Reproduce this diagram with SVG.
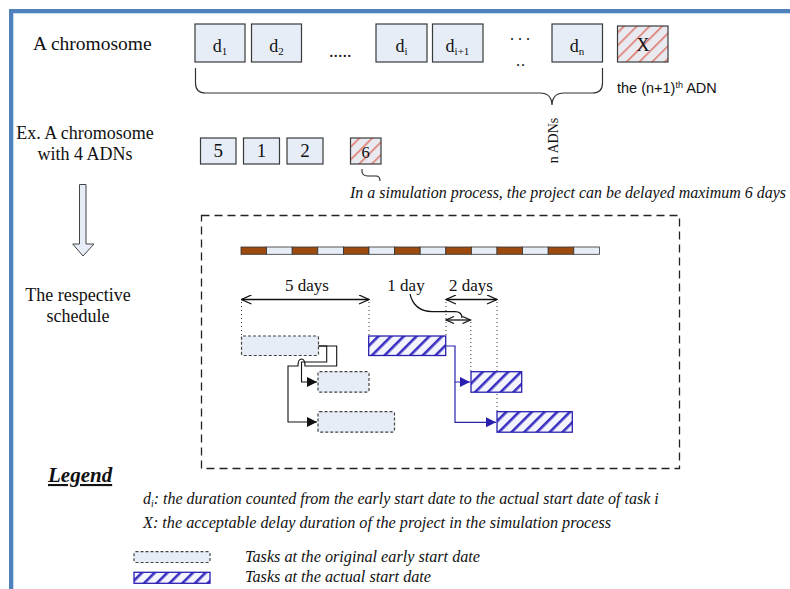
<svg xmlns="http://www.w3.org/2000/svg" width="790" height="589" viewBox="0 0 790 589">
<defs>
<style>
.t{font-family:"Liberation Serif","Times New Roman",serif;fill:#111}
.it{font-family:"Liberation Serif","Times New Roman",serif;font-style:italic;fill:#111}
.sans{font-family:"Liberation Sans",Arial,sans-serif;fill:#111}
.box{fill:#E6EDF7;stroke:#3a3a3a;stroke-width:1.2}
.xbox{fill:url(#redHatch);stroke:#3a3a3a;stroke-width:1.2}
.early{fill:#E6EDF7;stroke:#444;stroke-width:1.2;stroke-dasharray:3 2}
.actual{fill:url(#blueHatch);stroke:#2A20B0;stroke-width:1.3}
.dot{stroke:#333;stroke-width:1;stroke-dasharray:1 3;fill:none}
.dim{stroke:#111;stroke-width:1.3;fill:none}
.blk{stroke:#111;stroke-width:1.1;fill:none}
.blu{stroke:#2A20B0;stroke-width:1.2;fill:none}
.brn{fill:#9C4A0E;stroke:#333;stroke-width:0.8}
.lbl{fill:#E6EDF7;stroke:#333;stroke-width:0.8}
</style>
<pattern id="redHatch" width="9" height="9" patternUnits="userSpaceOnUse" patternTransform="rotate(45)">
<rect width="9" height="9" fill="#E8EAF0"/>
<rect x="0" y="0" width="1.6" height="9" fill="#E07A70"/>
</pattern>
<pattern id="blueHatch" width="9" height="9" patternUnits="userSpaceOnUse" patternTransform="rotate(45)">
<rect width="9" height="9" fill="#F4F4FF"/>
<rect x="0" y="0" width="2.6" height="9" fill="#3A30C0"/>
</pattern>
<marker id="openA" viewBox="0 0 12 10" refX="11" refY="5" markerWidth="12" markerHeight="10" markerUnits="userSpaceOnUse" orient="auto-start-reverse">
<path d="M1,0.5 L11,5 L1,9.5" fill="none" stroke="#111" stroke-width="1.3"/>
</marker>
<marker id="openS" viewBox="0 0 10 8" refX="9" refY="4" markerWidth="10" markerHeight="8" markerUnits="userSpaceOnUse" orient="auto-start-reverse">
<path d="M1,0.5 L9,4 L1,7.5" fill="none" stroke="#111" stroke-width="1.2"/>
</marker>
<marker id="triK" viewBox="0 0 10 10" refX="10" refY="5" markerWidth="11" markerHeight="10" markerUnits="userSpaceOnUse" orient="auto">
<path d="M0,0 L10,5 L0,10 Z" fill="#111"/>
</marker>
<marker id="triB" viewBox="0 0 10 10" refX="10" refY="5" markerWidth="11" markerHeight="10" markerUnits="userSpaceOnUse" orient="auto">
<path d="M0,0 L10,5 L0,10 Z" fill="#2A20B0"/>
</marker>
</defs>
<rect width="790" height="589" fill="#fff"/>
<g id="frame">
<rect x="9" y="9" width="781" height="4.3" fill="#4F81BD"/>
<rect x="9" y="9" width="4.3" height="580" fill="#4F81BD"/>
</g>

<g id="row-chromosome">
<text class="t" x="33" y="50" font-size="19.5">A chromosome</text>
<g id="d1"><rect class="box" x="195" y="24" width="50" height="38"/><text class="t" x="220" y="52" font-size="18" text-anchor="middle">d<tspan font-size="11" dy="3">1</tspan></text></g>
<g id="d2"><rect class="box" x="251.5" y="24" width="50" height="38"/><text class="t" x="276.5" y="52" font-size="18" text-anchor="middle">d<tspan font-size="11" dy="3">2</tspan></text></g>
<text class="t" x="329" y="57" font-size="18">.....</text>
<g id="di"><rect class="box" x="376" y="24" width="51" height="38"/><text class="t" x="401.5" y="52" font-size="18" text-anchor="middle">d<tspan font-size="11" dy="3">i</tspan></text></g>
<g id="di1"><rect class="box" x="432.5" y="24" width="50.5" height="38"/><text class="t" x="457.5" y="52" font-size="18" text-anchor="middle">d<tspan font-size="11" dy="3">i+1</tspan></text></g>
<text class="t" x="510" y="40" font-size="16" letter-spacing="4">...</text>
<text class="t" x="516" y="66" font-size="16" letter-spacing="1">..</text>
<g id="dn"><rect class="box" x="552" y="24" width="50.5" height="38"/><text class="t" x="577" y="52" font-size="18" text-anchor="middle">d<tspan font-size="11" dy="3">n</tspan></text></g>
<g id="X"><rect class="xbox" x="617.5" y="26" width="50.5" height="36"/><text class="t" x="643" y="51" font-size="18" text-anchor="middle">X</text></g>
<text class="sans" x="617" y="93" font-size="14.5">the (n+1)<tspan font-size="9" dy="-5">th</tspan><tspan dy="5"> ADN</tspan></text>
<path d="M195.5,68 V83 Q195.5,93 205.5,93 H540 Q551.5,93 552,105 Q552.5,93 564,93 H592.5 Q602.5,93 602.5,83 V68" fill="none" stroke="#333" stroke-width="1.2"/>
<text class="t" font-size="14" transform="translate(557.5,140.5) rotate(-90)" text-anchor="middle">n ADNs</text>
</g>

<g id="row-example">
<text class="t" x="85" y="139" font-size="18" text-anchor="middle">Ex. A chromosome</text>
<text class="t" x="85" y="160" font-size="18" text-anchor="middle">with 4 ADNs</text>
<g id="e5"><rect class="box" x="200.5" y="138" width="35.5" height="26"/><text class="t" x="218.2" y="157" font-size="19" text-anchor="middle">5</text></g>
<g id="e1"><rect class="box" x="243.5" y="138" width="36" height="26"/><text class="t" x="261.5" y="157" font-size="19" text-anchor="middle">1</text></g>
<g id="e2"><rect class="box" x="287" y="138" width="36" height="26"/><text class="t" x="305" y="157" font-size="19" text-anchor="middle">2</text></g>
<g id="e6"><rect class="xbox" x="350.5" y="138" width="30.5" height="26"/><text class="t" x="365.7" y="158" font-size="16.5" text-anchor="middle">6</text></g>
<path d="M362,169 Q361,176 368,176 H376 Q380,176 380,181" fill="none" stroke="#222" stroke-width="1.1"/>
<text class="it" x="350" y="198" font-size="16" textLength="436" lengthAdjust="spacingAndGlyphs">In a simulation process, the project can be delayed maximum 6 days</text>
</g>

<g id="down-arrow">
<path d="M79.5,184.5 H86 V244 H94 L83,256 L72.7,244 H79.5 Z" fill="#E6EDF7" stroke="#444" stroke-width="1"/>
</g>
<text class="t" x="78" y="301" font-size="18" text-anchor="middle">The respective</text>
<text class="t" x="78" y="322" font-size="18" text-anchor="middle">schedule</text>

<g id="schedule">
<rect x="201.5" y="215.5" width="478" height="253" fill="none" stroke="#222" stroke-width="1.3" stroke-dasharray="8 5"/>
<g id="timeline">
<rect class="brn" x="241" y="247" width="25.6" height="7.3"/>
<rect class="lbl" x="266.6" y="247" width="25.6" height="7.3"/>
<rect class="brn" x="292.2" y="247" width="25.6" height="7.3"/>
<rect class="lbl" x="317.8" y="247" width="25.6" height="7.3"/>
<rect class="brn" x="343.4" y="247" width="25.6" height="7.3"/>
<rect class="lbl" x="369" y="247" width="25.6" height="7.3"/>
<rect class="brn" x="394.6" y="247" width="25.6" height="7.3"/>
<rect class="lbl" x="420.2" y="247" width="25.6" height="7.3"/>
<rect class="brn" x="445.8" y="247" width="25.6" height="7.3"/>
<rect class="lbl" x="471.4" y="247" width="25.6" height="7.3"/>
<rect class="brn" x="497" y="247" width="25.6" height="7.3"/>
<rect class="lbl" x="522.6" y="247" width="25.6" height="7.3"/>
<rect class="brn" x="548.2" y="247" width="25.6" height="7.3"/>
<rect class="lbl" x="573.8" y="247" width="25.6" height="7.3"/>
</g>
<g id="dims">
<text class="t" x="307" y="291" font-size="17" text-anchor="middle">5 days</text>
<path class="dim" d="M241.5,299.5 H369" marker-start="url(#openA)" marker-end="url(#openA)"/>
<text class="t" x="406" y="291" font-size="17" text-anchor="middle">1 day</text>
<text class="t" x="471" y="291" font-size="17" text-anchor="middle">2 days</text>
<path class="dim" d="M446,299.5 H497" marker-start="url(#openA)" marker-end="url(#openA)"/>
<path class="dim" d="M446,320 H470.5" marker-start="url(#openS)" marker-end="url(#openS)"/>
<path d="M410,294 Q414,311 432,311.7 H455 Q462,311.7 462,318" fill="none" stroke="#111" stroke-width="1.2"/>
<path class="dot" d="M241.5,302 V336 M369,302 V336 M446,302 V336 M470.8,322 V371.5 M497,302 V411.5"/>
</g>
<g id="task1-early"><rect class="early" x="241.5" y="336" width="77" height="19.5" rx="1.5"/></g>
<g id="task2-early"><rect class="early" x="318" y="371.7" width="51" height="20.5" rx="1.5"/></g>
<g id="task3-early"><rect class="early" x="318" y="411.7" width="76.5" height="20.5" rx="1.5"/></g>
<g id="task1-actual"><rect class="actual" x="368.7" y="336" width="77" height="19.5"/></g>
<g id="task2-actual"><rect class="actual" x="471" y="371.7" width="50.7" height="20.5"/></g>
<g id="task3-actual"><rect class="actual" x="497" y="411.7" width="75.3" height="20.5"/></g>
<g id="connectors">
<path class="blk" d="M318.5,346 H336.7 V366 H305 Q305,359 301.5,359 Q298,359 298,366 H288 V422 H317" marker-end="url(#triK)"/>
<path class="blk" d="M318.5,346 H326.7 V362 H301.5 V382 H317" marker-end="url(#triK)"/>
<path class="blu" d="M445.7,346 H455 V382 H470" marker-end="url(#triB)"/>
<path class="blu" d="M455,382 V422.3 H496" marker-end="url(#triB)"/>
</g>
</g>

<g id="legend">
<text class="it" x="48" y="482" font-size="21" font-weight="bold" text-decoration="underline">Legend</text>
<text class="it" x="143" y="504" font-size="16">d<tspan font-size="9.5" dy="3">i</tspan><tspan dy="-3">: the duration counted from the early start date to the actual start date of task i</tspan></text>
<text class="it" x="143" y="528" font-size="16" textLength="468" lengthAdjust="spacingAndGlyphs">X: the acceptable delay duration of the project in the simulation process</text>
<rect class="early" x="134" y="551.7" width="76" height="10.8" rx="1.5"/>
<text class="it" x="245" y="562" font-size="16.2">Tasks at the original early start date</text>
<rect class="actual" x="134" y="572.3" width="76" height="11"/>
<text class="it" x="245" y="582" font-size="16.2">Tasks at the actual start date</text>
</g>
</svg>
